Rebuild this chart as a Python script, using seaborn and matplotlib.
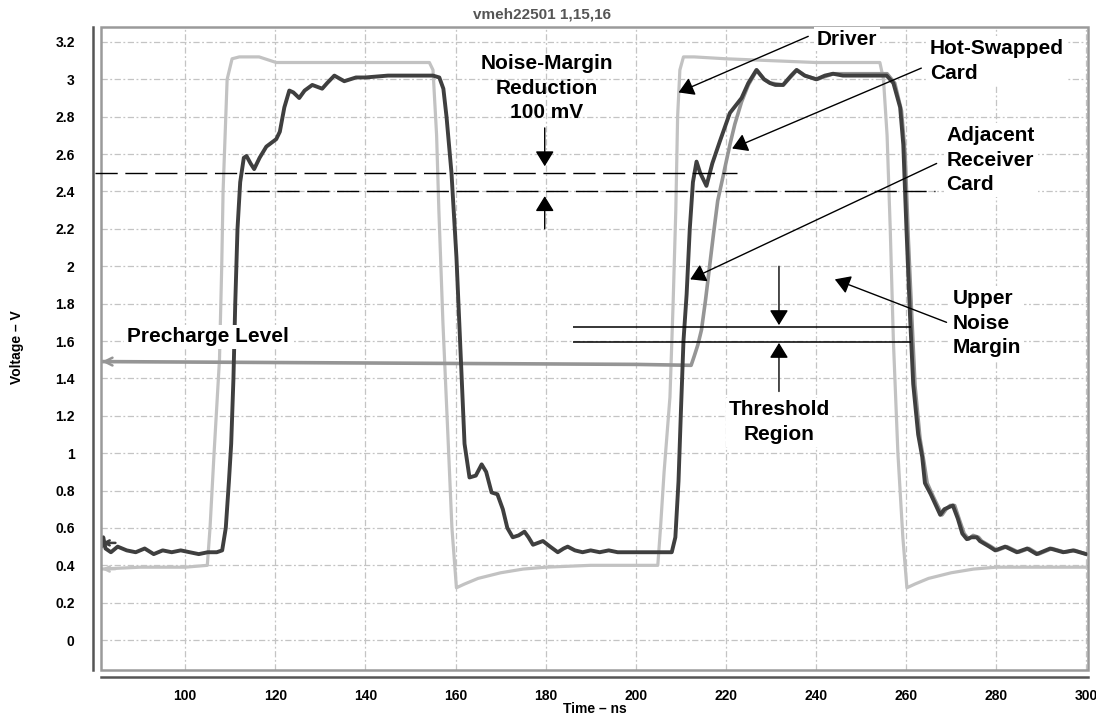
import matplotlib
matplotlib.use("Agg")
import matplotlib.pyplot as plt
import seaborn as sns
import pandas as pd
from matplotlib.patches import Rectangle
from matplotlib.ticker import MultipleLocator, FixedLocator, FixedFormatter

# ---------------- data ----------------
title_text = "vmeh22501 1,15,16"
x_label = "Time – ns"
y_label = "Voltage – V"

x_ticks = [100, 120, 140, 160, 180, 200, 220, 240, 260, 280, 300]
y_ticks = [0, 0.2, 0.4, 0.6, 0.8, 1, 1.2, 1.4, 1.6, 1.8, 2, 2.2, 2.4, 2.6, 2.8, 3, 3.2]
y_tick_labels = ["0", "0.2", "0.4", "0.6", "0.8", "1", "1.2", "1.4", "1.6", "1.8",
                 "2", "2.2", "2.4", "2.6", "2.8", "3", "3.2"]

driver_t = [81.3, 90, 100, 104.9, 105.5, 106.4, 107.6, 108.1, 108.4, 109.3, 110.4, 112, 116.4,
            120.2, 130, 140, 150, 154.2, 155.0, 155.8, 156.3, 157.2, 158.3, 159.2, 160.2, 162,
            165, 170, 175, 180, 190, 200, 204.9, 205.5, 206.3, 207.6, 208.3, 208.9, 209.3, 209.8,
            210.6, 213, 220, 230, 240, 250, 254.2, 255.0, 255.8, 256.5, 257.2, 258.2, 259.3,
            260.2, 262, 265, 270, 275, 280, 290, 300]
driver_v = [0.38, 0.39, 0.39, 0.40, 0.60, 1.00, 1.50, 2.00, 2.40, 3.00, 3.11, 3.12, 3.12,
            3.09, 3.09, 3.09, 3.09, 3.09, 3.05, 2.70, 2.30, 1.70, 1.10, 0.60, 0.28, 0.30,
            0.33, 0.36, 0.38, 0.39, 0.40, 0.40, 0.40, 0.60, 0.90, 1.30, 1.80, 2.30, 2.80, 3.05,
            3.12, 3.12, 3.11, 3.10, 3.09, 3.09, 3.09, 3.00, 2.70, 2.20, 1.60, 1.00, 0.55,
            0.28, 0.30, 0.33, 0.36, 0.38, 0.39, 0.39, 0.39]

adjacent_t = [81.4, 81.8, 82.3, 83.5, 85, 87, 89, 91, 93, 95, 97, 99, 101, 103, 105, 107,
              108.2, 109.0, 109.7, 110.2, 110.7, 111.1, 111.6, 112.2, 113.0, 113.6, 114.5,
              115.3, 116.5, 118.0, 120.2, 121.0, 122.0, 123.1, 124.0, 125.3, 126.5, 128.2,
              130.4, 131.5, 133.1, 135.3, 137.9, 140, 145, 150, 155, 156.4, 157.3, 158.0,
              159.1, 160.2, 161.0, 162.0, 163.1, 164.5, 165.8, 166.8, 168.0, 169.3, 170.5,
              171.5, 172.7, 174.0, 175.3, 176.2, 177.2, 178.3, 179.4, 181.0, 182.7, 184.0,
              184.9, 186.5, 188.2, 190, 192, 194, 196, 198, 200, 203, 206, 208.0, 208.8,
              209.5, 210.0, 210.6, 211.3, 212.0, 212.7, 213.5, 214.3, 215.7, 217.0, 218.7,
              220.9, 223.5, 225.0, 226.8, 228.5, 229.8, 231.0, 232.7, 234.5, 235.7, 237.5,
              240.1, 242.0, 243.8, 246, 250, 253, 255.7, 257.2, 258.7, 259.4, 260.1, 260.9,
              261.6, 262.7, 263.6, 264.2, 265.5, 267.6, 268.5, 269.4, 270.4, 271.5, 272.5,
              273.5, 274.5, 275.7, 276.4, 277.1, 278.5, 279.8, 282.0, 284.6, 286.9, 289.0,
              292.0, 294.9, 297.1, 300]
adjacent_v = [0.50, 0.55, 0.49, 0.47, 0.50, 0.48, 0.47, 0.49, 0.46, 0.48, 0.47, 0.48, 0.47,
              0.46, 0.47, 0.47, 0.48, 0.60, 0.85, 1.05, 1.40, 1.80, 2.20, 2.45, 2.58, 2.59,
              2.55, 2.52, 2.58, 2.64, 2.68, 2.72, 2.85, 2.94, 2.93, 2.90, 2.94, 2.97, 2.95,
              2.98, 3.02, 2.99, 3.01, 3.01, 3.02, 3.02, 3.02, 3.01, 2.95, 2.80, 2.50, 2.05,
              1.60, 1.05, 0.87, 0.88, 0.94, 0.90, 0.79, 0.78, 0.70, 0.60, 0.55, 0.56, 0.58,
              0.55, 0.51, 0.52, 0.53, 0.50, 0.47, 0.49, 0.50, 0.48, 0.47, 0.48, 0.47, 0.48,
              0.47, 0.47, 0.47, 0.47, 0.47, 0.47, 0.55, 0.85, 1.20, 1.60, 1.85, 2.20, 2.45,
              2.56, 2.50, 2.43, 2.55, 2.67, 2.82, 2.90, 2.98, 3.05, 3.00, 2.98, 2.97, 2.97,
              3.02, 3.05, 3.02, 3.00, 3.02, 3.03, 3.02, 3.02, 3.02, 3.02, 2.98, 2.85, 2.65,
              2.20, 1.73, 1.37, 1.10, 0.98, 0.84, 0.78, 0.67, 0.70, 0.71, 0.72, 0.65, 0.57,
              0.54, 0.55, 0.55, 0.53, 0.52, 0.50, 0.48, 0.50, 0.47, 0.49, 0.46, 0.49, 0.47,
              0.48, 0.46]

hotswap_t = [81.5, 120, 160, 200, 212.3, 213.0, 213.8, 214.6, 215.5, 216.4, 217.3, 218.2,
             219.2, 220.0, 221.0, 222.0, 223.5, 225.0, 226.9, 228.5, 229.9, 232.8, 235.8,
             237.6, 240.2, 243.9, 250, 255.8, 257.5, 259.0, 259.8, 260.5, 261.3, 262.0,
             263.1, 264.0, 264.7, 266.0, 268.0, 268.9, 269.8, 270.8, 271.9, 272.9, 273.9,
             274.9, 276.1, 276.8, 277.5, 278.9, 280.2, 282.4, 285.0, 287.3, 289.4, 292.4,
             295.3, 297.5, 300]
hotswap_v = [1.49, 1.485, 1.48, 1.475, 1.47, 1.52, 1.58, 1.66, 1.82, 2.00, 2.18, 2.35, 2.46,
             2.55, 2.66, 2.76, 2.88, 2.97, 3.05, 3.00, 2.98, 2.97, 3.05, 3.02, 3.00, 3.03,
             3.03, 3.03, 2.98, 2.83, 2.60, 2.15, 1.72, 1.36, 1.08, 0.95, 0.84, 0.77, 0.67,
             0.70, 0.72, 0.72, 0.64, 0.57, 0.54, 0.56, 0.55, 0.53, 0.52, 0.50, 0.48, 0.50,
             0.47, 0.49, 0.46, 0.49, 0.47, 0.48, 0.46]

noise_levels = [2.50, 2.40]          # dashed reference levels (V)
threshold_levels = [1.676, 1.596]    # threshold region (V)

# ---------------- style ----------------
sns.set_style("white")
plt.rcParams["font.family"] = ["Liberation Sans", "DejaVu Sans"]
plt.rcParams["font.weight"] = "bold"
plt.rcParams["axes.labelweight"] = "bold"
plt.rcParams["text.color"] = "black"
plt.rcParams["axes.labelcolor"] = "black"
plt.rcParams["xtick.labelcolor"] = "black"
plt.rcParams["ytick.labelcolor"] = "black"

W, H = 1096, 718
fig = plt.figure(figsize=(W / 100, H / 100), dpi=100)
ax = fig.add_axes([101 / W, 1 - 670 / H, (1088 - 101) / W, (670 - 27) / H])

df_driver = pd.DataFrame({"t": driver_t, "v": driver_v})
df_adj = pd.DataFrame({"t": adjacent_t, "v": adjacent_v})
df_hot = pd.DataFrame({"t": hotswap_t, "v": hotswap_v})

sns.lineplot(data=df_driver, x="t", y="v", ax=ax, color="#c2c2c2", linewidth=2.3,
             estimator=None, sort=False, zorder=3)
sns.lineplot(data=df_hot, x="t", y="v", ax=ax, color="#959595", linewidth=2.6,
             estimator=None, sort=False, zorder=4)
sns.lineplot(data=df_adj, x="t", y="v", ax=ax, color="#3f3f3f", linewidth=2.8,
             estimator=None, sort=False, zorder=5)

ax.set_xlim(81.3, 300.4)
ax.set_ylim(-0.16, 3.28)

# channel markers at the left edge
for lvl, col, ms in [(hotswap_v[0], "#959595", 14), (adjacent_v[0] + 0.02, "#3f3f3f", 9),
                     (driver_v[0], "#c2c2c2", 9)]:
    ax.annotate("", xy=(81.5, lvl), xytext=(84.5, lvl),
                arrowprops=dict(arrowstyle="->", color=col, lw=1.8, mutation_scale=ms,
                                shrinkA=0, shrinkB=0), zorder=6)

# ticks
ax.xaxis.set_major_locator(FixedLocator(x_ticks))
ax.xaxis.set_minor_locator(MultipleLocator(10))
ax.yaxis.set_major_locator(FixedLocator(y_ticks))
ax.yaxis.set_major_formatter(FixedFormatter(y_tick_labels))
ax.yaxis.set_minor_locator(MultipleLocator(0.1))
ax.tick_params(axis="y", which="major", direction="out", length=6, width=1.5, color="#555555",
               pad=7, labelsize=10, labelcolor="black")
ax.tick_params(axis="y", which="minor", direction="out", length=3.5, width=1.5, color="#555555")
ax.tick_params(axis="x", which="major", direction="out", length=5, width=1.5, color="#555555",
               pad=3.5, labelsize=10, labelcolor="black")
ax.tick_params(axis="x", which="minor", direction="out", length=4, width=1.5, color="#555555")

# grid
ax.grid(True, which="major", color="#c4c4c4", linestyle=(0, (5, 2, 1.5, 2)), linewidth=0.9)
ax.set_axisbelow(True)

# spines / frame
for s in ["top", "right"]:
    ax.spines[s].set_visible(False)
ax.spines["left"].set_position(("outward", 6))
ax.spines["bottom"].set_position(("outward", 5))
for s in ["left", "bottom"]:
    ax.spines[s].set_color("#555555")
    ax.spines[s].set_linewidth(1.8)
ax.add_patch(Rectangle((0, 0), 1, 1, transform=ax.transAxes, fill=False,
                       edgecolor="#9a9a9a", linewidth=1.8, clip_on=False, zorder=7))

# labels
ax.set_xlabel(x_label, fontsize=10, fontweight="bold", color="black")
ax.set_ylabel(y_label, fontsize=10, fontweight="bold", color="black")
ax.xaxis.set_label_coords(0.5, -0.049)
ax.yaxis.set_label_coords(-0.078, 0.502)
ax.set_title(title_text, fontsize=11, fontweight="bold", color="#555555",
             x=0.447, y=1.0187, va="center", pad=0)

# ---------------- annotations ----------------
head = "-|>,head_length=0.62,head_width=0.38"
aprops = dict(arrowstyle=head, color="black", lw=1.0, mutation_scale=15,
              shrinkA=0, shrinkB=0)
box = dict(facecolor="white", edgecolor="none", pad=2)
tfs = 15

# noise margin dashed levels
ax.plot([80.0, 222.4], [noise_levels[0], noise_levels[0]], color="black", linewidth=1.0,
        linestyle=(0, (16, 5.5)), zorder=8, clip_on=False)
ax.hlines(noise_levels[1], 113.8, 266.4, colors="black", linewidth=1.0,
          linestyles=(0, (16, 5.5)), zorder=8)
ax.annotate("", xy=(179.8, 2.535), xytext=(179.8, 2.74), arrowprops=aprops, zorder=9)
ax.annotate("", xy=(179.8, 2.375), xytext=(179.8, 2.20), arrowprops=aprops, zorder=9)
ax.text(180.2, 2.953, "Noise-Margin\nReduction\n100 mV", ha="center", va="center",
        fontsize=tfs, fontweight="bold", linespacing=1.38, color="black", zorder=10)

# threshold region
ax.hlines(threshold_levels, 186, 261, colors="black", linewidth=1.1, zorder=8)
ax.annotate("", xy=(231.8, 1.685), xytext=(231.8, 2.0), arrowprops=aprops, zorder=9)
ax.annotate("", xy=(231.8, 1.59), xytext=(231.8, 1.33), arrowprops=aprops, zorder=9)
ax.text(231.8, 1.166, "Threshold\nRegion", ha="center", va="center", fontsize=tfs,
        fontweight="bold", linespacing=1.38, color="black", bbox=box, zorder=10)

# curve labels
ax.annotate("", xy=(209.5, 2.93), xytext=(238.3, 3.23), arrowprops=aprops, zorder=9)
ax.text(240.2, 3.215, "Driver", ha="left", va="center", fontsize=tfs, fontweight="bold",
        color="black", bbox=box, zorder=10)

ax.annotate("", xy=(221.4, 2.63), xytext=(263.4, 3.06), arrowprops=aprops, zorder=9)
ax.text(265.3, 3.098, "Hot-Swapped\nCard", ha="left", va="center", fontsize=tfs,
        fontweight="bold", linespacing=1.38, color="black", bbox=box, zorder=10)

ax.annotate("", xy=(212.1, 1.93), xytext=(266.8, 2.55), arrowprops=aprops, zorder=9)
ax.text(269.0, 2.568, "Adjacent\nReceiver\nCard", ha="left", va="center", fontsize=tfs,
        fontweight="bold", linespacing=1.38, color="black", bbox=box, zorder=10)

ax.annotate("", xy=(244.2, 1.93), xytext=(269.0, 1.70), arrowprops=aprops, zorder=9)
ax.text(270.4, 1.696, "Upper\nNoise\nMargin", ha="left", va="center", fontsize=tfs,
        fontweight="bold", linespacing=1.38, color="black", bbox=box, zorder=10)

ax.text(87.1, 1.623, "Precharge Level", ha="left", va="center", fontsize=tfs,
        fontweight="bold", color="black", bbox=box, zorder=10)

fig.savefig("out.png", dpi=100)
